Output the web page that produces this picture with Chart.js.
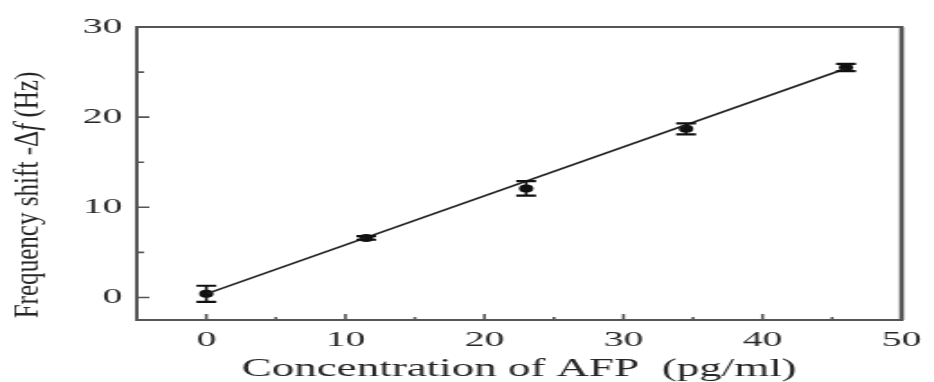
<!DOCTYPE html>
<html>
<head>
<meta charset="utf-8">
<script src="https://cdn.jsdelivr.net/npm/chart.js@4/dist/chart.umd.min.js"></script>
<style>
  html, body { margin: 0; padding: 0; background: #fff; }
</style>
</head>
<body>
<!-- the original figure is stretched horizontally, so the canvas is drawn narrow and widened -->
<canvas id="afpChart" width="519" height="382" style="display:block;width:934px;height:382px"></canvas>
<script>
const concentration = [0, 11.5, 23, 34.5, 46];
const freqShift = [0.4, 6.6, 12.1, 18.7, 25.5];
const freqError = [0.9, 0.2, 0.8, 0.6, 0.4];
const fitX = [0, 46];
const fitY = [0.4, 25.4];
const xTickLabels = [0, 10, 20, 30, 40, 50];
const yTickLabels = [0, 10, 20, 30];

const ink = "#262626";

const framePlugin = {
  id: "frame",
  afterDatasetsDraw(chart) {
    const { ctx, chartArea: a, scales } = chart;
    const x = scales.x, y = scales.y;
    ctx.save();

    // error bars
    ctx.strokeStyle = "#111";
    concentration.forEach((c, i) => {
      const px = x.getPixelForValue(c);
      const top = y.getPixelForValue(freqShift[i] + freqError[i]);
      const bot = y.getPixelForValue(freqShift[i] - freqError[i]);
      ctx.lineWidth = 1.6;
      ctx.beginPath();
      ctx.moveTo(px, top);
      ctx.lineTo(px, bot);
      ctx.stroke();
      ctx.lineWidth = 2.2;
      ctx.beginPath();
      ctx.moveTo(px - 5.5, top);
      ctx.lineTo(px + 5.5, top);
      ctx.moveTo(px - 5.5, bot);
      ctx.lineTo(px + 5.5, bot);
      ctx.stroke();
    });

    // box round the plot
    ctx.strokeStyle = "#555";
    ctx.lineWidth = 2;
    ctx.strokeRect(a.left, a.top, a.right - a.left, a.bottom - a.top);
    ctx.lineWidth = 2.6;
    ctx.beginPath();
    ctx.moveTo(a.right, a.top);
    ctx.lineTo(a.right, a.bottom);
    ctx.stroke();

    // inward tick marks
    ctx.lineWidth = 1.6;
    ctx.beginPath();
    x.ticks.forEach(t => {
      if (t.value <= x.min || t.value >= x.max) return;
      const px = x.getPixelForValue(t.value);
      const len = t.value % 10 === 0 ? 6 : 3;
      ctx.moveTo(px, a.bottom);
      ctx.lineTo(px, a.bottom - len);
    });
    y.ticks.forEach(t => {
      if (t.value <= y.min || t.value >= y.max) return;
      const py = y.getPixelForValue(t.value);
      const len = t.value % 10 === 0 ? 7 : 4;
      ctx.moveTo(a.left, py);
      ctx.lineTo(a.left + len, py);
    });
    ctx.stroke();

    // y title, condensed, with italic f
    const parts = [
      ["Frequency shift -Δ", "19px 'Liberation Serif'"],
      ["f", "italic 19px 'Liberation Serif'"],
      [" (Hz)", "19px 'Liberation Serif'"],
    ];
    let total = 0;
    parts.forEach(p => { ctx.font = p[1]; total += ctx.measureText(p[0]).width; });
    ctx.translate(21, 195);
    ctx.rotate(-Math.PI / 2);
    ctx.scale(1.32, 1);
    ctx.fillStyle = ink;
    ctx.textBaseline = "alphabetic";
    ctx.textAlign = "left";
    let cx = -total / 2;
    parts.forEach(p => {
      ctx.font = p[1];
      ctx.fillText(p[0], cx, 0);
      cx += ctx.measureText(p[0]).width;
    });
    ctx.restore();
  },
};

const data = {
  datasets: [
    {
      label: "fit",
      data: fitX.map((v, i) => ({ x: v, y: fitY[i] })),
      showLine: true,
      borderColor: "#222",
      borderWidth: 1.7,
      pointRadius: 0,
    },
    {
      label: "AFP",
      data: concentration.map((v, i) => ({ x: v, y: freqShift[i] })),
      showLine: false,
      pointRadius: 4,
      pointBackgroundColor: "#111",
      pointBorderColor: "#111",
      pointBorderWidth: 0,
    },
  ],
};

const config = {
  type: "scatter",
  data: data,
  options: {
    responsive: false,
    animation: false,
    devicePixelRatio: 1,
    layout: { padding: { top: 27, right: 14, left: 0, bottom: 0 } },
    plugins: {
      legend: { display: false },
      tooltip: { enabled: false },
    },
    scales: {
      x: {
        type: "linear",
        min: -5,
        max: 50,
        grid: { display: false, drawTicks: false },
        border: { display: false },
        ticks: {
          stepSize: 5,
          includeBounds: false,
          autoSkip: false,
          maxRotation: 0,
          padding: 7,
          color: ink,
          font: { family: "'Liberation Serif'", size: 22 },
          callback: v => (xTickLabels.includes(v) ? String(v) : ""),
        },
        title: {
          display: true,
          text: "Concentration of AFP  (pg/ml)",
          color: ink,
          font: { family: "'Liberation Serif'", size: 25, lineHeight: 1 },
          padding: { top: 0, bottom: 0 },
        },
        afterFit: s => { s.height = 62; },
      },
      y: {
        min: -2.5,
        max: 30,
        grid: { display: false, drawTicks: false },
        border: { display: false },
        ticks: {
          stepSize: 5,
          includeBounds: false,
          autoSkip: false,
          padding: 8,
          color: ink,
          font: { family: "'Liberation Serif'", size: 22 },
          callback: v => (yTickLabels.includes(v) ? String(v) : ""),
        },
        afterFit: s => { s.width = 76; },
      },
    },
  },
  plugins: [framePlugin],
};

const afpChart = new Chart(document.getElementById("afpChart").getContext("2d"), config);
</script>
</body>
</html>
